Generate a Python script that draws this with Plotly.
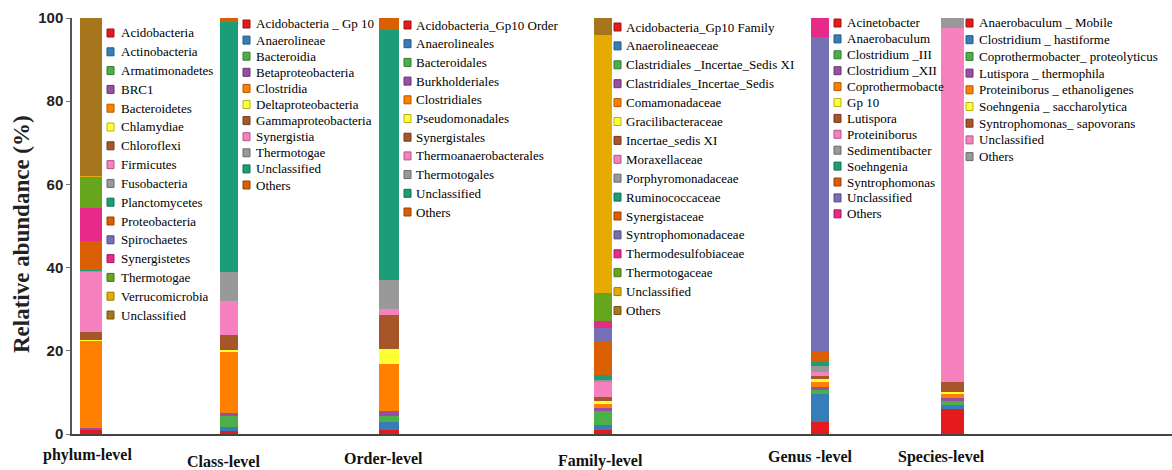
import plotly.graph_objects as go

# ---- taxonomic levels and their composition (relative abundance, %) ----
levels = ["phylum-level", "Class-level", "Order-level", "Family-level", "Genus -level", "Species-level"]

phylum_taxa = ["Acidobacteria", "Actinobacteria", "Armatimonadetes", "BRC1", "Bacteroidetes",
               "Chlamydiae", "Chloroflexi", "Firmicutes", "Fusobacteria", "Planctomycetes",
               "Proteobacteria", "Spirochaetes", "Synergistetes", "Thermotogae", "Verrucomicrobia",
               "Unclassified"]
phylum_values = [1.0, 0.3, 0.1, 0.1, 21.0, 0.2, 1.8, 14.5, 0.2, 0.2, 6.8, 0.2, 8.0, 7.6, 0.1, 37.9]

class_taxa = ["Acidobacteria _ Gp 10", "Anaerolineae", "Bacteroidia", "Betaproteobacteria",
              "Clostridia", "Deltaproteobacteria", "Gammaproteobacteria", "Synergistia",
              "Thermotogae", "Unclassified", "Others"]
class_values = [0.8, 1.0, 2.5, 0.8, 14.5, 0.5, 3.6, 8.2, 7.0, 60.1, 1.0]

order_taxa = ["Acidobacteria_Gp10 Order", "Anaerolineales", "Bacteroidales", "Burkholderiales",
              "Clostridiales", "Pseudomonadales", "Synergistales", "Thermoanaerobacterales",
              "Thermotogales", "Unclassified", "Others"]
order_values = [1.0, 1.8, 1.6, 1.2, 11.3, 3.6, 8.0, 1.6, 7.0, 59.9, 3.0]

family_taxa = ["Acidobacteria_Gp10 Family", "Anaerolineaeceae", "Clastridiales _Incertae_Sedis XI",
               "Clastridiales_Incertae_Sedis", "Comamonadaceae", "Gracilibacteraceae",
               "Incertae_sedis XI", "Moraxellaceae", "Porphyromonadaceae", "Ruminococcaceae",
               "Synergistaceae", "Syntrophomonadaceae", "Thermodesulfobiaceae", "Thermotogaceae",
               "Unclassified", "Others"]
family_values = [1.0, 1.2, 3.3, 0.7, 1.0, 0.8, 0.8, 3.7, 0.5, 1.3, 8.0, 3.2, 1.7, 6.8, 62.0, 4.0]

genus_taxa = ["Acinetobacter", "Anaerobaculum", "Clostridium _III", "Clostridium _XII",
              "Coprothermobacte", "Gp 10", "Lutispora", "Proteiniborus", "Sedimentibacter",
              "Soehngenia", "Syntrophomonas", "Unclassified", "Others"]
genus_values = [3.0, 6.5, 1.0, 0.8, 1.2, 0.8, 0.6, 1.0, 1.5, 1.0, 2.6, 75.5, 4.5]

species_taxa = ["Anaerobaculum _ Mobile", "Clostridium _ hastiforme", "Coprothermobacter_ proteolyticus",
                "Lutispora _ thermophila", "Proteiniborus _ ethanoligenes", "Soehngenia _ saccharolytica",
                "Syntrophomonas_ sapovorans", "Unclassified", "Others"]
species_values = [6.0, 1.0, 1.0, 0.6, 1.0, 0.5, 2.4, 85.0, 2.5]

tick_values = [0, 20, 40, 60, 80, 100]

groups = [
    (phylum_taxa, phylum_values),
    (class_taxa, class_values),
    (order_taxa, order_values),
    (family_taxa, family_values),
    (genus_taxa, genus_values),
    (species_taxa, species_values),
]

# Set1 followed by Dark2
SET1 = ["#e41a1c", "#377eb8", "#4daf4a", "#984ea3", "#ff7f00", "#ffff33", "#a65628", "#f781bf", "#999999"]
DARK2 = ["#1b9e77", "#d95f02", "#7570b3", "#e7298a", "#66a61e", "#e6ab02", "#a6761d", "#666666"]
PALETTE = SET1 + DARK2

# ---- page geometry (pixels) ----
W, H = 1172, 470
PL, PR, PT, PB = 72, 1172, 18, 434   # plot area edges

def paper_x(px):
    return (px - PL) / (PR - PL)

def paper_y(py):
    return (PB - py) / (PB - PT)

# bar centre / width in page pixels; x axis spans the plot width 1:1
bar_center = [91, 229, 389, 603, 820, 952]
bar_width = [22, 18, 20, 18, 18, 23]

# legend block per bar: swatch x, text x, first row y, row step
legend_pos = [
    (107, 119, 33, 18.8),
    (243, 254, 24, 16.1),
    (404, 414, 25, 18.7),
    (614, 624, 27, 18.9),
    (834, 845, 23, 15.9),
    (966, 977, 23, 16.7),
]

# label positions under each bar (page pixels)
label_pos = [(87, 455), (223, 461), (383, 459), (600, 461), (810, 457), (941, 457)]

fig = go.Figure()
shapes = []
annotations = []

def darker(hexcol, f=0.7):
    r, g, b = int(hexcol[1:3], 16), int(hexcol[3:5], 16), int(hexcol[5:7], 16)
    return "rgb(%d,%d,%d)" % (r * f, g * f, b * f)

for gi, (taxa, vals) in enumerate(groups):
    xc = bar_center[gi] - PL
    for ti, (name, v) in enumerate(zip(taxa, vals)):
        col = PALETTE[ti]
        fig.add_trace(go.Bar(
            x=[xc], y=[v], width=[bar_width[gi]], name=name,
            marker=dict(color=col, line=dict(width=0)),
            showlegend=False, hovertemplate=name + ": %{y}%<extra></extra>",
        ))
    sx, tx, y0, step = legend_pos[gi]
    for ti, name in enumerate(taxa):
        col = PALETTE[ti]
        yy = y0 + ti * step
        shapes.append(dict(
            type="rect", xref="paper", yref="paper",
            x0=paper_x(sx), x1=paper_x(sx + 7), y0=paper_y(yy + 4), y1=paper_y(yy - 4),
            fillcolor=col, line=dict(color=darker(col), width=1), layer="above",
        ))
        annotations.append(dict(
            text=name, xref="paper", yref="paper", x=paper_x(tx), y=paper_y(yy),
            xanchor="left", yanchor="middle", showarrow=False,
            font=dict(family="Liberation Serif", size=13, color="#000"),
        ))

for (lx, ly), lab in zip(label_pos, levels):
    annotations.append(dict(
        text="<b>" + lab + "</b>", xref="paper", yref="paper", x=paper_x(lx), y=paper_y(ly),
        xanchor="center", yanchor="middle", showarrow=False,
        font=dict(family="Liberation Serif", size=16, color="#111"),
    ))

annotations.append(dict(
    text="<b>Relative abundance (%)</b>", xref="paper", yref="paper",
    x=paper_x(22), y=paper_y(234), xanchor="center", yanchor="middle",
    textangle=-90, showarrow=False,
    font=dict(family="Liberation Serif", size=23, color="#222"),
))

fig.update_layout(
    width=W, height=H, autosize=False,
    margin=dict(l=PL, r=W - PR, t=PT, b=H - PB, pad=0),
    paper_bgcolor="white", plot_bgcolor="white",
    barmode="stack", bargap=0,
    shapes=shapes, annotations=annotations,
    showlegend=False,
    xaxis=dict(range=[0, PR - PL], showticklabels=False, ticks="", showgrid=False,
               zeroline=False, showline=True, linecolor="#444", linewidth=2, fixedrange=True),
    yaxis=dict(range=[0, 100], tickvals=tick_values, ticktext=["<b>%d</b>" % t for t in tick_values],
               ticks="outside", ticklen=4, tickcolor="#777", showgrid=False, zeroline=False,
               showline=True, linecolor="#555", linewidth=1.5,
               tickfont=dict(family="Liberation Sans", size=15, color="#222"), fixedrange=True),
)

fig.write_html("out.html")
